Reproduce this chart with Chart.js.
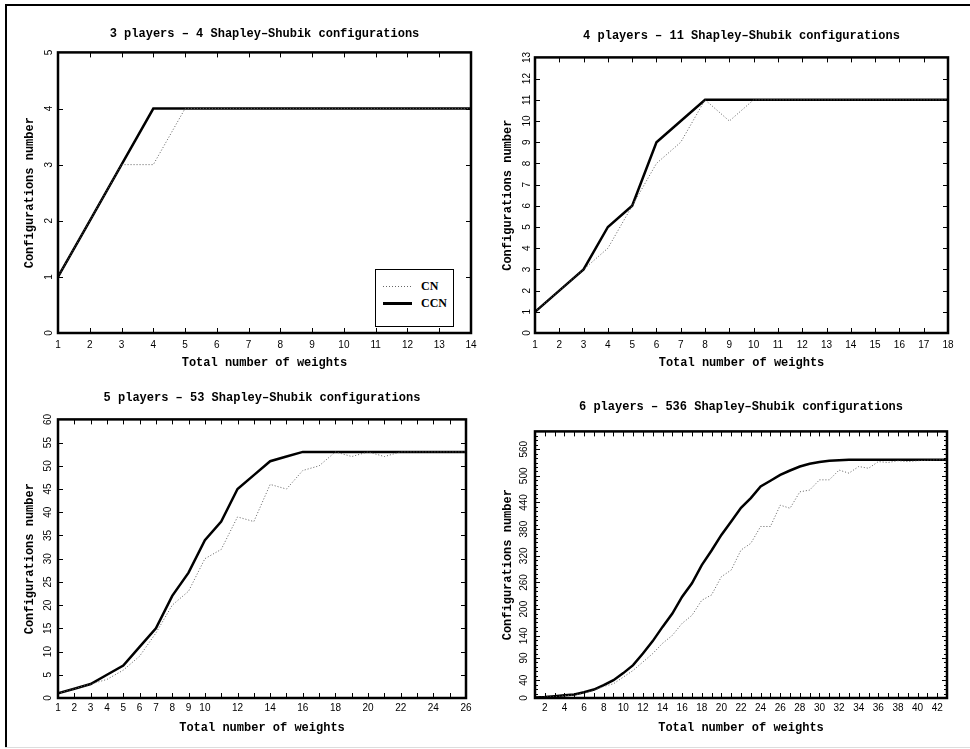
<!DOCTYPE html>
<html>
<head>
<meta charset="utf-8">
<title>Shapley-Shubik configurations</title>
<script src="https://cdn.jsdelivr.net/npm/chart.js@4.4.0/dist/chart.umd.min.js"></script>
<style>
    body { margin: 0; background: #fff; }
    #frame { position: absolute; left: 0; top: 0; width: 970px; height: 749px; overflow: hidden; }
    .edge { position: absolute; background: #000; }
    .panel { position: absolute; width: 485px; height: 374px; }
    .legend {
        position: absolute; left: 375px; top: 269px; width: 77px; height: 48px;
        border: 1px solid #000; background: #fff; padding-top: 8px; box-sizing: content-box;
        font: bold 12px "Liberation Serif", serif;
    }
    .legend .row { height: 17px; display: flex; align-items: center; }
    .legend .sample { width: 29px; margin-left: 7px; margin-right: 9px; }
    .legend .dotted { height: 1px; background: repeating-linear-gradient(90deg, #666 0 1px, transparent 1px 3px); }
    .legend .solid { height: 3px; background: #000; }
</style>
</head>
<body>
<div id="frame">
    <div class="edge" style="left:5px; top:4px; width:2px; height:743px;"></div>
    <div class="edge" style="left:5px; top:4px; width:965px; height:2px;"></div>
    <div class="edge" style="left:5px; top:747px; width:965px; height:1px; background:#ddd;"></div>

    <div class="panel" style="left:0; top:0;"><canvas id="chart3"></canvas><div class="legend" id="legend3"></div></div>
    <div class="panel" style="left:485px; top:0;"><canvas id="chart4"></canvas></div>
    <div class="panel" style="left:0; top:375px;"><canvas id="chart5"></canvas></div>
    <div class="panel" style="left:485px; top:375px;"><canvas id="chart6"></canvas></div>
</div>

<script>
    // 3 players
    const weights3 = [1, 2, 3, 4, 5, 6, 7, 8, 9, 10, 11, 12, 13, 14];
    const cn3 = [1, 2, 3, 3, 4, 4, 4, 4, 4, 4, 4, 4, 4, 4];
    const ccn3 = [1, 2, 3, 4, 4, 4, 4, 4, 4, 4, 4, 4, 4, 4];
    const xLabels3 = [1, 2, 3, 4, 5, 6, 7, 8, 9, 10, 11, 12, 13, 14];
    const yLabels3 = [0, 1, 2, 3, 4, 5];

    // 4 players
    const weights4 = [1, 2, 3, 4, 5, 6, 7, 8, 9, 10, 11, 12, 13, 14, 15, 16, 17, 18];
    const cn4 = [1, 2, 3, 4, 6, 8, 9, 11, 10, 11, 11, 11, 11, 11, 11, 11, 11, 11];
    const ccn4 = [1, 2, 3, 5, 6, 9, 10, 11, 11, 11, 11, 11, 11, 11, 11, 11, 11, 11];
    const xLabels4 = [1, 2, 3, 4, 5, 6, 7, 8, 9, 10, 11, 12, 13, 14, 15, 16, 17, 18];
    const yLabels4 = [0, 1, 2, 3, 4, 5, 6, 7, 8, 9, 10, 11, 12, 13];

    // 5 players
    const weights5 = [1, 2, 3, 4, 5, 6, 7, 8, 9, 10, 11, 12, 13, 14, 15, 16, 17, 18, 19, 20, 21, 22, 23, 24, 25, 26];
    const cn5 = [1, 2, 3, 4, 6, 9, 14, 20, 23, 30, 32, 39, 38, 46, 45, 49, 50, 53, 52, 53, 52, 53, 53, 53, 53, 53];
    const ccn5 = [1, 2, 3, 5, 7, 11, 15, 22, 27, 34, 38, 45, 48, 51, 52, 53, 53, 53, 53, 53, 53, 53, 53, 53, 53, 53];
    const xLabels5 = [1, 2, 3, 4, 5, 6, 7, 8, 9, 10, 12, 14, 16, 18, 20, 22, 24, 26];
    const yLabels5 = [0, 5, 10, 15, 20, 25, 30, 35, 40, 45, 50, 55, 60];

    // 6 players
    const weights6 = [1, 2, 3, 4, 5, 6, 7, 8, 9, 10, 11, 12, 13, 14, 15, 16, 17, 18, 19, 20, 21, 22,
        23, 24, 25, 26, 27, 28, 29, 30, 31, 32, 33, 34, 35, 36, 37, 38, 39, 40, 41, 42, 43];
    const cn6 = [1, 2, 3, 5, 7, 11, 17, 26, 32, 47, 62, 81, 100, 123, 141, 168, 186, 220, 232, 273, 288, 333,
        348, 386, 386, 434, 427, 464, 468, 491, 491, 513, 506, 521, 517, 532, 530, 534, 532, 534, 535, 536, 536];
    const ccn6 = [1, 2, 4, 6, 8, 13, 19, 29, 40, 56, 74, 100, 128, 160, 190, 228, 258, 299, 332, 367, 397, 428,
        450, 476, 489, 502, 512, 521, 527, 531, 534, 535, 536, 536, 536, 536, 536, 536, 536, 536, 536, 536, 536];
    const xLabels6 = [2, 4, 6, 8, 10, 12, 14, 16, 18, 20, 22, 24, 26, 28, 30, 32, 34, 36, 38, 40, 42];
    const yLabels6 = [0, 40, 90, 140, 200, 260, 320, 380, 440, 500, 560];

    const MONO = '"Liberation Mono", "DejaVu Sans Mono", monospace';
    const SANS = '"Liberation Sans", Arial, sans-serif';

    // draws the plot frame and the inward tick marks on all four sides
    const boxTicks = {
        id: 'boxTicks',
        afterDatasetsDraw: function (chart, args, opts) {
            let ctx = chart.ctx;
            let a = chart.chartArea;
            let xs = chart.scales.x;
            let ys = chart.scales.y;
            ctx.save();
            ctx.strokeStyle = '#000';
            ctx.lineWidth = 1;
            ctx.beginPath();
            xs.ticks.forEach(function (t) {
                let px = Math.round(xs.getPixelForValue(t.value)) + 0.5;
                ctx.moveTo(px, a.bottom);
                ctx.lineTo(px, a.bottom - opts.major);
                ctx.moveTo(px, a.top);
                ctx.lineTo(px, a.top + opts.major);
            });
            ys.ticks.forEach(function (t) {
                let py = Math.round(ys.getPixelForValue(t.value)) + 0.5;
                let len = t.label === '' ? opts.minor : opts.major;
                ctx.moveTo(a.left, py);
                ctx.lineTo(a.left + len, py);
                ctx.moveTo(a.right, py);
                ctx.lineTo(a.right - len, py);
            });
            ctx.stroke();
            ctx.lineWidth = 2.5;
            ctx.strokeRect(a.left, a.top, a.right - a.left, a.bottom - a.top);
            ctx.restore();
        }
    };

    function toPoints(xs, ys) {
        return xs.map((x, i) => ({x: x, y: ys[i]}));
    }

    function makePanel(id, cfg) {
        let ctx = document.getElementById(id).getContext('2d');
        return new Chart(ctx, {
            type: 'line',
            data: {
                datasets: [
                    {
                        label: 'CN',
                        data: toPoints(cfg.weights, cfg.cn),
                        borderColor: '#5e5e5e',
                        borderWidth: 1,
                        borderDash: [1, 2],
                        pointRadius: 0,
                        tension: 0
                    },
                    {
                        label: 'CCN',
                        data: toPoints(cfg.weights, cfg.ccn),
                        borderColor: '#000',
                        borderWidth: 2.5,
                        pointRadius: 0,
                        tension: 0
                    }
                ]
            },
            options: {
                responsive: true,
                maintainAspectRatio: false,
                animation: false,
                layout: {padding: {left: 0, right: cfg.padRight, top: 0, bottom: 0}},
                plugins: {
                    legend: {display: false},
                    tooltip: {enabled: false},
                    title: {
                        display: true,
                        fullSize: false,
                        text: cfg.title,
                        color: '#000',
                        font: {family: MONO, size: 12, weight: 'bold'},
                        padding: {top: cfg.titleTop, bottom: cfg.titleBottom}
                    },
                    boxTicks: {major: 5, minor: 3}
                },
                scales: {
                    x: {
                        type: 'linear',
                        min: cfg.xMin,
                        max: cfg.xMax,
                        grid: {display: false, drawTicks: false},
                        border: {display: false},
                        ticks: {
                            stepSize: 1,
                            autoSkip: false,
                            maxRotation: 0,
                            padding: cfg.xTickPad,
                            color: '#000',
                            font: {family: SANS, size: 10},
                            callback: v => cfg.xLabels.includes(v) ? String(v) : ''
                        },
                        title: {
                            display: true,
                            text: 'Total number of weights',
                            color: '#000',
                            font: {family: MONO, size: 12, weight: 'bold'},
                            padding: {top: 0, bottom: cfg.xTitleBottom}
                        },
                        afterFit: s => { s.height = cfg.xHeight; }
                    },
                    y: {
                        min: cfg.yMin,
                        max: cfg.yMax,
                        grid: {display: false, drawTicks: false},
                        border: {display: false},
                        ticks: {
                            stepSize: cfg.yStep,
                            autoSkip: false,
                            minRotation: 90,
                            maxRotation: 90,
                            crossAlign: 'center',
                            padding: cfg.yTickPad,
                            color: '#000',
                            font: {family: SANS, size: 10},
                            callback: v => cfg.yLabels.includes(v) ? String(v) : ''
                        },
                        title: {
                            display: true,
                            text: 'Configurations number',
                            color: '#000',
                            font: {family: MONO, size: 12, weight: 'bold'},
                            padding: {top: cfg.yTitleTop, bottom: 0}
                        },
                        afterFit: s => { s.width = cfg.yWidth; }
                    }
                }
            },
            plugins: [boxTicks]
        });
    }

    const chart3 = makePanel('chart3', {
        title: '3 players \u2013 4 Shapley\u2013Shubik configurations',
        weights: weights3, cn: cn3, ccn: ccn3, xLabels: xLabels3, yLabels: yLabels3,
        xMin: 1, xMax: 14, yMin: 0, yMax: 5, yStep: 1,
        padRight: 14, titleTop: 27, titleBottom: 11,
        xHeight: 41, xTickPad: 6, xTitleBottom: 4,
        yWidth: 58, yTickPad: 6, yTitleTop: 23
    });

    makePanel('chart4', {
        title: '4 players \u2013 11 Shapley\u2013Shubik configurations',
        weights: weights4, cn: cn4, ccn: ccn4, xLabels: xLabels4, yLabels: yLabels4,
        xMin: 1, xMax: 18, yMin: 0, yMax: 13, yStep: 1,
        padRight: 22, titleTop: 29, titleBottom: 14,
        xHeight: 41, xTickPad: 6, xTitleBottom: 4,
        yWidth: 50, yTickPad: 2, yTitleTop: 16
    });

    makePanel('chart5', {
        title: '5 players \u2013 53 Shapley\u2013Shubik configurations',
        weights: weights5, cn: cn5, ccn: ccn5, xLabels: xLabels5, yLabels: yLabels5,
        xMin: 1, xMax: 26, yMin: 0, yMax: 60, yStep: 5,
        padRight: 19, titleTop: 16, titleBottom: 14,
        xHeight: 51, xTickPad: 4, xTitleBottom: 14,
        yWidth: 58, yTickPad: 4, yTitleTop: 23
    });

    makePanel('chart6', {
        title: '6 players \u2013 536 Shapley\u2013Shubik configurations',
        weights: weights6, cn: cn6, ccn: ccn6, xLabels: xLabels6, yLabels: yLabels6,
        xMin: 1, xMax: 43, yMin: 0, yMax: 600, yStep: 10,
        padRight: 23, titleTop: 25, titleBottom: 17,
        xHeight: 51, xTickPad: 4, xTitleBottom: 14,
        yWidth: 50, yTickPad: 2, yTitleTop: 16
    });

    // legend of the first panel, built from its datasets
    let legendBox = document.getElementById('legend3');
    chart3.data.datasets.forEach(function (ds) {
        let row = document.createElement('div');
        row.className = 'row';
        let sample = document.createElement('span');
        sample.className = 'sample ' + (ds.borderDash ? 'dotted' : 'solid');
        let text = document.createElement('span');
        text.textContent = ds.label;
        row.appendChild(sample);
        row.appendChild(text);
        legendBox.appendChild(row);
    });
</script>
</body>
</html>
